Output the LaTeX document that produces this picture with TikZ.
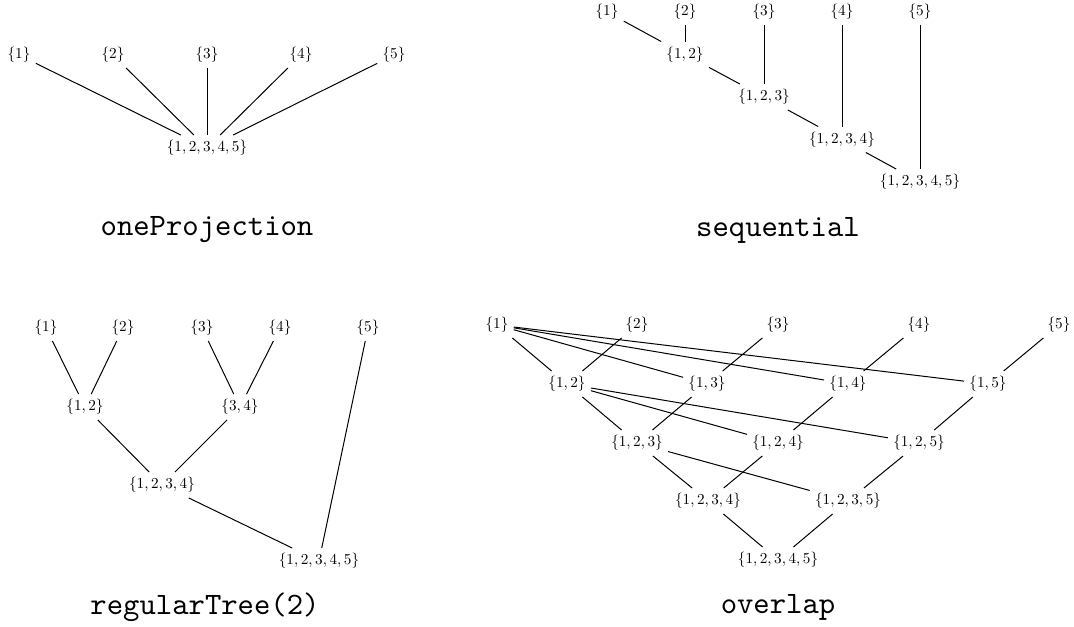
\RequirePackage{fix-cm}
\documentclass[tikz,border=0pt]{standalone}
\newcommand{\sset}[1]{$\{#1\}$}
\tikzset{
  lbl/.style={font=\normalsize, scale=0.76},
  caption/.style={font=\ttfamily, scale=2.05}, % on top of lbl's 0.76
  edge/.style={line width=0.5pt}
}
\begin{document}
\begin{tikzpicture}[x=0.5pt, y=-0.5pt, every node/.style={lbl}]
    \useasboundingbox (0,0) rectangle (1074,626);

    % oneProjection
    \foreach \i/\x in {1/19,2/113,3/207,4/301,5/394}
        \node (a\i) at (\x,55) {\sset{\i}};
    \node (aall) at (207,148) {\sset{1,2,3,4,5}};
    \foreach \i in {1,...,5}
        \draw[edge] (a\i) -- (aall);
    \node[caption] (capa) at (207,230) {oneProjection};

    % sequential
    \foreach \i/\x in {1/607,2/685,3/764,4/842,5/920}
        \node (b\i) at (\x,12) {\sset{\i}};
    \node (b12) at (685,54.5) {\sset{1,2}};
    \node (b123) at (764,97) {\sset{1,2,3}};
    \node (b1234) at (842,139.5) {\sset{1,2,3,4}};
    \node (b12345) at (920,182) {\sset{1,2,3,4,5}};
    \draw[edge] (b1) -- (b12);
    \draw[edge] (b2) -- (b12);
    \draw[edge] (b12) -- (b123);
    \draw[edge] (b3) -- (b123);
    \draw[edge] (b123) -- (b1234);
    \draw[edge] (b4) -- (b1234);
    \draw[edge] (b1234) -- (b12345);
    \draw[edge] (b5) -- (b12345);
    \node[caption] (capb) at (778,230) {sequential};

    % regularTree(2)
    \foreach \i/\x in {1/46,2/123,3/202,4/280,5/368}
        \node (c\i) at (\x,328) {\sset{\i}};
    \node (c12) at (85,407) {\sset{1,2}};
    \node (c34) at (240,407) {\sset{3,4}};
    \node (c1234) at (162,485) {\sset{1,2,3,4}};
    \node (c12345) at (319,561) {\sset{1,2,3,4,5}};
    \draw[edge] (c1) -- (c12);
    \draw[edge] (c2) -- (c12);
    \draw[edge] (c3) -- (c34);
    \draw[edge] (c4) -- (c34);
    \draw[edge] (c12) -- (c1234);
    \draw[edge] (c34) -- (c1234);
    \draw[edge] (c1234) -- (c12345);
    \draw[edge] (c5) -- (c12345);
    \node[caption] (capc) at (205,607) {regularTree(2)};

    % overlap
    \foreach \i/\x in {1/497,2/637,3/778,4/919,5/1059}
        \node (d\i) at (\x,325) {\sset{\i}};
    \foreach \i/\x in {2/567,3/707,4/848,5/988}
        \node (d1\i) at (\x,384) {\sset{1,\i}};
    \foreach \i/\x in {3/637,4/778,5/919}
        \node (d12\i) at (\x,443) {\sset{1,2,\i}};
    \foreach \i/\x in {4/708,5/848}
        \node (d123\i) at (\x,501) {\sset{1,2,3,\i}};
    \node (d12345) at (778,560) {\sset{1,2,3,4,5}};
    \foreach \i in {2,...,5} {
        \draw[edge] (d1) -- (d1\i);
        \draw[edge] (d\i) -- (d1\i);
    }
    \foreach \i in {3,4,5} {
        \draw[edge] (d12) -- (d12\i);
        \draw[edge] (d1\i) -- (d12\i);
    }
    \draw[edge] (d123) -- (d1234);
    \draw[edge] (d123) -- (d1235);
    \draw[edge] (d124) -- (d1234);
    \draw[edge] (d125) -- (d1235);
    \draw[edge] (d1234) -- (d12345);
    \draw[edge] (d1235) -- (d12345);
    \node[caption] (capd) at (778,607) {overlap};
\end{tikzpicture}
\end{document}
